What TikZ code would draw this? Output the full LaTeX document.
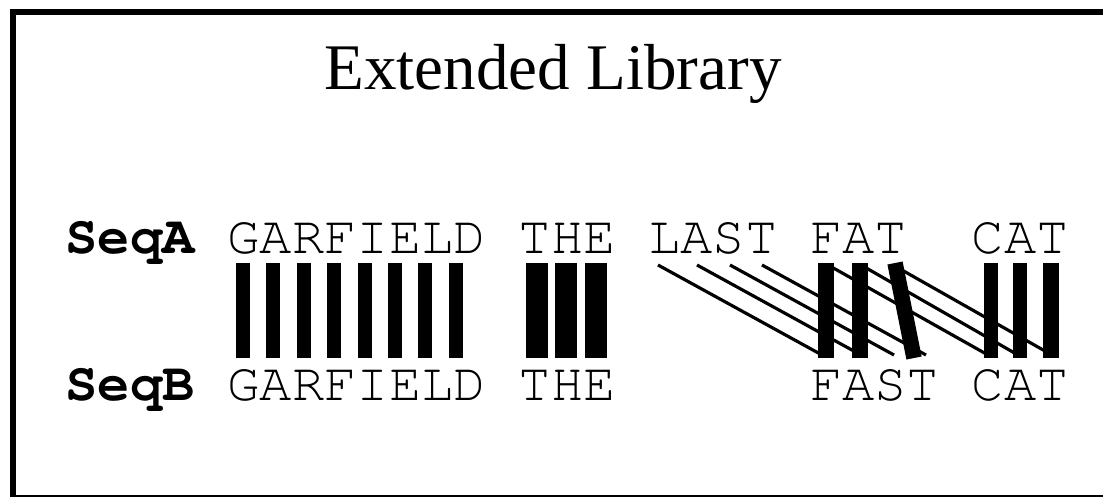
\documentclass[tikz,border=0pt]{standalone}
\usepackage{fontspec}
\setmainfont{Liberation Serif}
\newfontfamily\seqfont{texgyrecursor}[Extension=.otf, UprightFont=*-regular, BoldFont=*-bold]

\tikzset{
	word/.style={anchor=base west, inner sep=0pt, font=\seqfont\fontsize{15.3}{18}\selectfont},
	seqlabel/.style={word, font=\seqfont\bfseries\fontsize{15.3}{18}\selectfont},
	diag/.style={line width=0.9pt}
}

\begin{document}
\begin{tikzpicture}[x=0.01cm, y=-0.01cm]
		\useasboundingbox (0,0) rectangle (1103,497);
		\draw [line width=1.7pt] (13,497) -- (13,12) -- (1103,12);
		\draw [line width=0.5pt] (13,496) -- (1103,496);
		\node [anchor=base, inner sep=0pt, font=\fontsize{18.5}{22}\selectfont] (title) at (553,89) {Extended Library};
		\node [seqlabel] (seqA) at (65,253) {SeqA};
		\node [seqlabel] (seqB) at (65,400) {SeqB};
		\foreach \w/\c/\n in {GARFIELD/0/garA, THE/9/theA, LAST/13/lastA, FAT/18/fatA, CAT/23/catA}
			\node [word] (\n) at (227+\c*32.35,253) {\w};
		\foreach \w/\c/\n in {GARFIELD/0/garB, THE/9/theB, FAST/18/fastB, CAT/23/catB}
			\node [word] (\n) at (227+\c*32.35,400) {\w};
		\foreach \xa/\xb/\lw [count=\i] in {243/243/4, 273.4/273.4/4, 303.8/303.8/4, 334.2/334.2/4, 364.6/364.6/4, 395/395/4, 425.4/425.4/4, 455.8/455.8/4, 537/537/6, 566/566/6, 596/596/6, 826/826/4.4, 860/860/4.4, 895/914/4.4, 991/991/4.2, 1020/1020/4.2, 1051/1051/4.6} {
			\coordinate (top\i) at (\xa,263);
			\coordinate (bot\i) at (\xb,358);
			\draw [line width=\lw pt] (top\i) -- (bot\i);
		}
		\foreach \xa/\xb [count=\i] in {658/822, 697/861, 730/894, 762/926, 828/988, 861/1018, 893/1052} {
			\coordinate (dtop\i) at (\xa,265);
			\coordinate (dbot\i) at (\xb,355);
			\draw [diag] (dtop\i) -- (dbot\i);
		}
	\end{tikzpicture}
\end{document}
